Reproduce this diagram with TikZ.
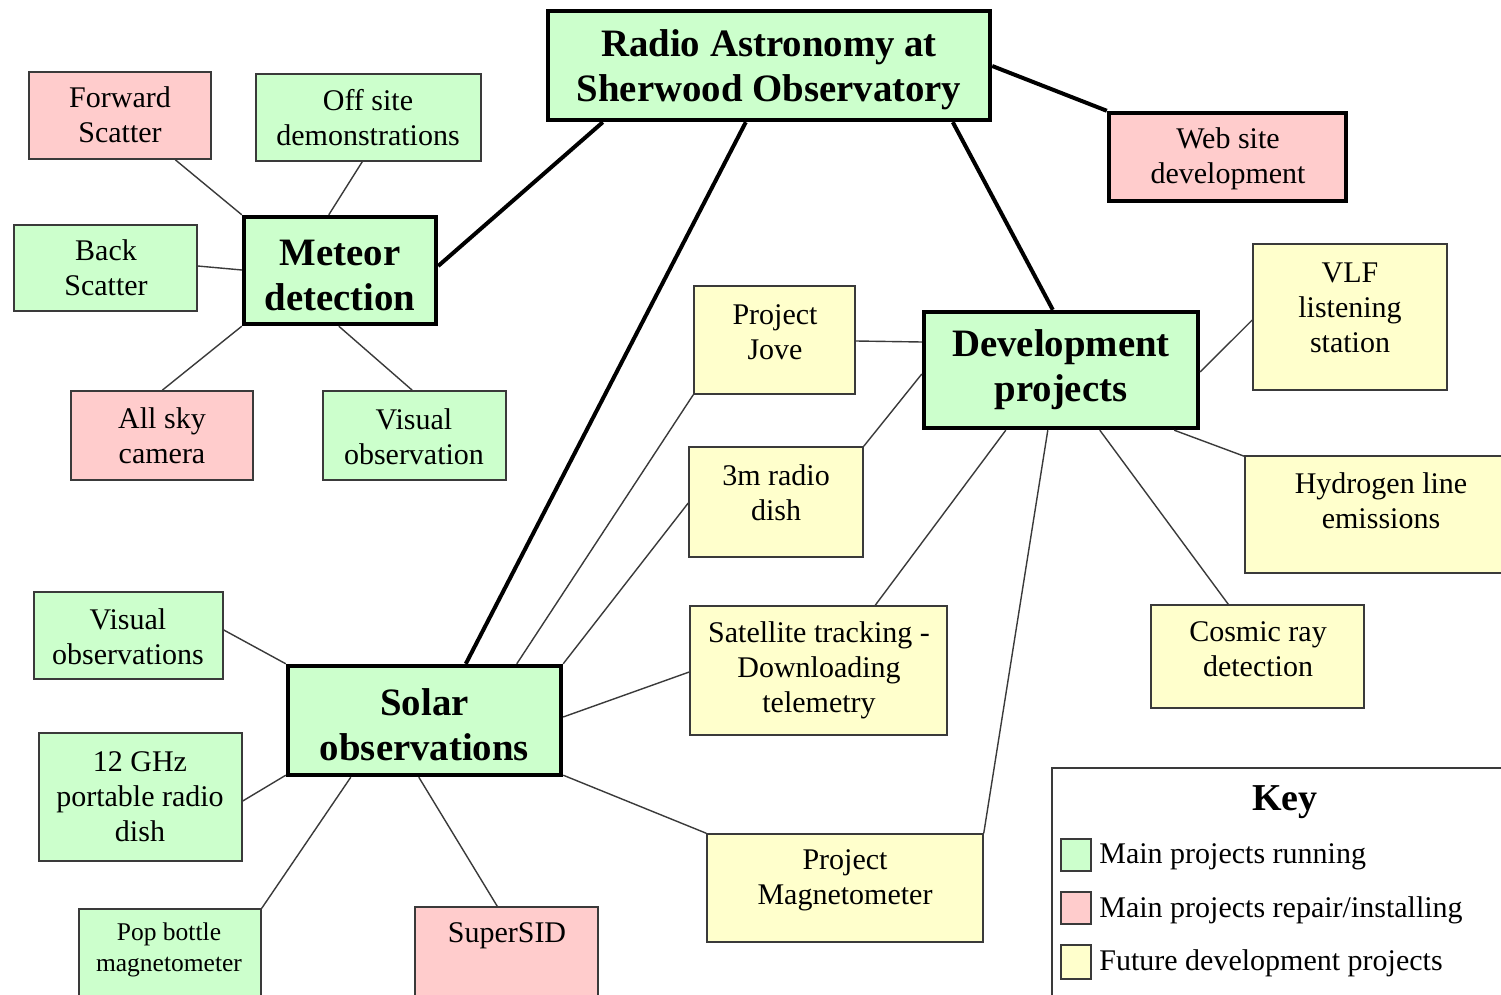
\documentclass[tikz,border=0pt]{standalone}
\usepackage{fontspec}
\setmainfont{Liberation Serif}
\usetikzlibrary{calc}
\definecolor{cgreen}{HTML}{CCFFCC}
\definecolor{cpink}{HTML}{FFCCCC}
\definecolor{cyel}{HTML}{FFFFCC}
\definecolor{cline}{HTML}{3A3A3A}
\tikzset{
  bx/.style={draw=cline, line width=0.75pt, rectangle, inner sep=0pt},
  mainbx/.style={draw=black, line width=2.2pt, rectangle, inner sep=0pt},
  gbx/.style={bx, fill=cgreen},
  pbx/.style={bx, fill=cpink},
  ybx/.style={bx, fill=cyel},
  txt/.style={align=center, inner sep=0pt, yshift=-1pt, font=\fontsize{15}{17.5}\selectfont},
  ttl/.style={align=center, inner sep=0pt, yshift=-1.2pt, font=\fontsize{19.4}{22.5}\selectfont\bfseries},
  thickln/.style={draw=black, line width=2pt},
  thinln/.style={draw=cline, line width=0.7pt},
}
\begin{document}
\begin{tikzpicture}[x=0.5pt, y=-0.5pt]
\useasboundingbox (0,0) rectangle (1501,995);
\clip (0,0) rectangle (1501,995);
\fill[white] (0,0) rectangle (1501,995);

% key frame
\draw[cline, line width=0.7pt] (1052,1000) -- (1052,768) -- (1505,768);

% main boxes
\node[mainbx, fill=cgreen, minimum width=221pt, minimum height=54.5pt] (main) at (769,65.5) {};
\node[mainbx, fill=cgreen, minimum width=96pt, minimum height=53.5pt] (meteor) at (340,270.5) {};
\node[mainbx, fill=cgreen, minimum width=137pt, minimum height=58pt] (dev) at (1061,370) {};
\node[mainbx, fill=cgreen, minimum width=136.5pt, minimum height=54.5pt] (solar) at (424.5,720.5) {};
\node[mainbx, fill=cpink, minimum width=118.5pt, minimum height=44pt] (web) at (1227.5,157) {};

% other boxes
\node[pbx, minimum width=91pt, minimum height=43.5pt] (fwd) at (120,115.5) {};
\node[gbx, minimum width=112.5pt, minimum height=43.5pt] (offsite) at (368.5,117.5) {};
\node[gbx, minimum width=91.5pt, minimum height=43pt] (back) at (105.5,268) {};
\node[pbx, minimum width=91pt, minimum height=44.5pt] (allsky) at (162,435.5) {};
\node[gbx, minimum width=91.5pt, minimum height=44.5pt] (visobs) at (414.5,435.5) {};
\node[ybx, minimum width=97pt, minimum height=73pt] (vlf) at (1350,317) {};
\node[ybx, minimum width=80.5pt, minimum height=54pt] (jove) at (774.5,340) {};
\node[ybx, minimum width=87pt, minimum height=55pt] (dish) at (776,502) {};
\node[ybx, minimum width=136pt, minimum height=58.5pt] (hyd) at (1381,514.5) {};
\node[ybx, minimum width=106.5pt, minimum height=51.5pt] (cosmic) at (1257.5,656.5) {};
\node[ybx, minimum width=128.5pt, minimum height=64.5pt] (sat) at (818.5,670.5) {};
\node[ybx, minimum width=138pt, minimum height=54pt] (mag) at (845,888) {};
\node[gbx, minimum width=94.5pt, minimum height=43.5pt] (visobss) at (128.5,635.5) {};
\node[gbx, minimum width=101.5pt, minimum height=64pt] (ghz) at (140.5,797) {};
\node[gbx, minimum width=91pt, minimum height=50.5pt] (pop) at (170,959.5) {};
\node[pbx, minimum width=91.5pt, minimum height=51.5pt] (sid) at (506.5,958.5) {};

% thick connectors
\draw[thickln] ($(main.south west)+(57,0)$) -- ($(meteor.east)+(0,-4.5)$);
\draw[thickln] ($(main.south west)+(200,0)$) -- ($(solar.north west)+(180,0)$);
\draw[thickln] ($(main.south west)+(407,0)$) -- ($(dev.north west)+(131,0)$);
\draw[thickln] ($(main.east)+(0,0.5)$) -- (web.north west);

% meteor connectors
\draw[thinln] ($(fwd.south west)+(147,0)$) -- (meteor.north west);
\draw[thinln] ($(offsite.south west)+(107,0)$) -- ($(meteor.north west)+(87,0)$);
\draw[thinln] ($(back.east)+(0,-2)$) -- ($(meteor.west)+(0,-0.5)$);
\draw[thinln] ($(allsky.north west)+(92,0)$) -- (meteor.south west);
\draw[thinln] ($(visobs.north west)+(90,0)$) -- ($(meteor.south west)+(97,0)$);

% solar connectors
\draw[thinln] ($(visobss.east)+(0,-5.5)$) -- (solar.north west);
\draw[thinln] ($(ghz.east)+(0,4)$) -- ($(solar.south west)+(0,-2)$);
\draw[thinln] (pop.north east) -- ($(solar.south west)+(65,0)$);
\draw[thinln] ($(sid.north west)+(83,0)$) -- ($(solar.south west)+(133,0)$);
\draw[thinln] (mag.north west) -- ($(solar.south east)+(0,-2)$);
\draw[thinln] ($(sat.west)+(0,1.5)$) -- ($(solar.east)+(0,-3.5)$);
\draw[thinln] ($(dish.west)+(0,1)$) -- (solar.north east);
\draw[thinln] (jove.south west) -- ($(solar.north west)+(231,0)$);

% development connectors
\draw[thinln] ($(jove.east)+(0,1)$) -- ($(dev.west)+(0,-28)$);
\draw[thinln] (dish.north east) -- ($(dev.west)+(0,4)$);
\draw[thinln] ($(vlf.west)+(0,3)$) -- ($(dev.east)+(0,2)$);
\draw[thinln] ($(hyd.north west)+(0,1)$) -- ($(dev.south east)+(-26,0)$);
\draw[thinln] ($(cosmic.north west)+(78,0)$) -- ($(dev.south west)+(178,0)$);
\draw[thinln] ($(sat.north west)+(186,0)$) -- ($(dev.south west)+(84,0)$);
\draw[thinln] (mag.north east) -- ($(dev.south west)+(126,0)$);

% texts
\node[ttl] (main-t) at (769,67.5) {Radio Astronomy at\\Sherwood Observatory};
\node[ttl] (meteor-t) at (340,273) {Meteor\\detection};
\node[ttl] (dev-t) at (1061,367.5) {Development\\projects};
\node[ttl] (solar-t) at (424.5,722) {Solar\\observations};
\node[txt] (web-t) at (1228,157) {Web site\\development};
\node[txt] (fwd-t) at (120,113) {Forward\\Scatter};
\node[txt] (offsite-t) at (368,115.5) {Off site\\demonstrations};
\node[txt] (back-t) at (106,266) {Back\\Scatter};
\node[txt] (allsky-t) at (162,434) {All sky\\camera};
\node[txt] (visobs-t) at (414,435) {Visual\\observation};
\node[txt] (vlf-t) at (1350,306) {VLF\\listening\\station};
\node[txt] (jove-t) at (775,330) {Project\\Jove};
\node[txt] (dish-t) at (776,490.5) {3m radio\\dish};
\node[txt] (hyd-t) at (1381,499) {Hydrogen line\\emissions};
\node[txt] (cosmic-t) at (1258,647.5) {Cosmic ray\\detection};
\node[txt] (sat-t) at (819,668) {Satellite tracking -\\Downloading\\telemetry};
\node[txt] (mag-t) at (845,878.5) {Project\\Magnetometer};
\node[txt] (visobss-t) at (128,635) {Visual\\observations};
\node[txt] (ghz-t) at (140,795) {12 GHz\\portable radio\\dish};
\node[txt, font=\fontsize{12.75}{15.5}\selectfont] (pop-t) at (169,947.5) {Pop bottle\\magnetometer};
\node[txt] (sid-t) at (507,934) {SuperSID};

% key
\node[ttl, font=\fontsize{19}{22}\selectfont\bfseries] (key-t) at (1285,800) {Key};
\node[gbx, minimum width=15pt, minimum height=16pt] (kg) at (1076,855) {};
\node[pbx, minimum width=15pt, minimum height=16pt] (kp) at (1076,908) {};
\node[ybx, minimum width=15pt, minimum height=17pt] (ky) at (1076,962) {};
\node[txt, anchor=west] (kg-t) at (1099,855) {Main projects running};
\node[txt, anchor=west] (kp-t) at (1099,908) {Main projects repair/installing};
\node[txt, anchor=west] (ky-t) at (1099,961) {Future development projects};
\end{tikzpicture}
\end{document}
